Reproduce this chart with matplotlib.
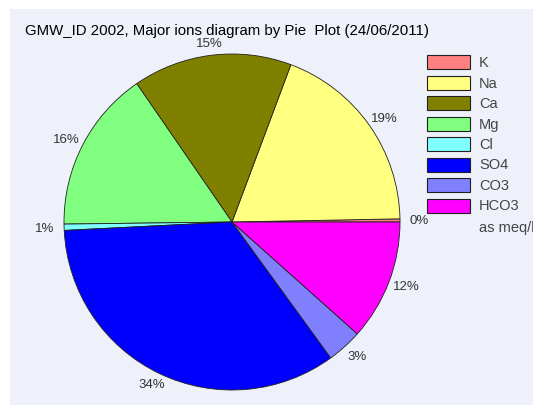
import matplotlib
matplotlib.use("Agg")
import numpy as np
import matplotlib.pyplot as plt
from matplotlib.patches import Rectangle

title = "GMW_ID 2002, Major ions diagram by Pie  Plot (24/06/2011)"
ions = ["K", "Na", "Ca", "Mg", "Cl", "SO4", "CO3", "HCO3"]
values = [0.3, 19.0, 15.3, 15.6, 0.6, 34.2, 3.4, 11.6]
colors = ["#FF8080", "#FFFF80", "#808000", "#80FF80", "#80FFFF", "#0000FF", "#8080FF", "#FF00FF"]
unit_note = "as meq/l"

W, H = 533, 406
fig = plt.figure(figsize=(W / 100, H / 100), dpi=100)
fig.patch.set_facecolor("white")
ax = fig.add_axes([0, 0, 1, 1])

FONT = "Liberation Sans"

cx, cy, r = 232, H - 223, 168
wedges, texts = ax.pie(
    values, colors=colors, startangle=0, counterclock=True,
    center=(cx, cy), radius=r,
    wedgeprops=dict(edgecolor="#202020", linewidth=0.6),
    frame=True,
)
ax.set_xlim(0, W)
ax.set_ylim(0, H)
ax.set_aspect("auto")
ax.axis("off")
ax.add_patch(Rectangle((10, 0), W - 10, H - 10, facecolor="#EEF1FA", edgecolor="none", zorder=-5))

# percentage labels placed just outside the rim
total = sum(values)
gap, tw, th = 7, 24, 10
for w, v in zip(wedges, values):
    th_mid = np.deg2rad((w.theta1 + w.theta2) / 2)
    c, s = np.cos(th_mid), np.sin(th_mid)
    x = cx + (r + gap) * c + tw / 2 * c
    y = cy + (r + gap) * s + th / 2 * s
    ax.text(x, y, f"{100 * v / total:.0f}%", fontsize=9.5, family=FONT,
            color="#333333", ha="center", va="center")

ax.text(25, H - 35, title, fontsize=10.8, family=FONT, va="baseline", ha="left", color="black")

# legend
ly0 = 63
dy = 20.5
for i, (name, col) in enumerate(zip(ions, colors)):
    y = H - (ly0 + i * dy)
    ax.add_patch(Rectangle((427, y - 7), 43, 14, facecolor=col, edgecolor="#202020", linewidth=0.8, zorder=3))
    ax.text(479, y, name, fontsize=10.5, family=FONT, va="center", ha="left", color="#444444")
ax.text(479, H - (ly0 + 8 * dy + 1), unit_note, fontsize=10.5, family=FONT, va="center", ha="left", color="#444444")

fig.savefig("out.png", dpi=100)
